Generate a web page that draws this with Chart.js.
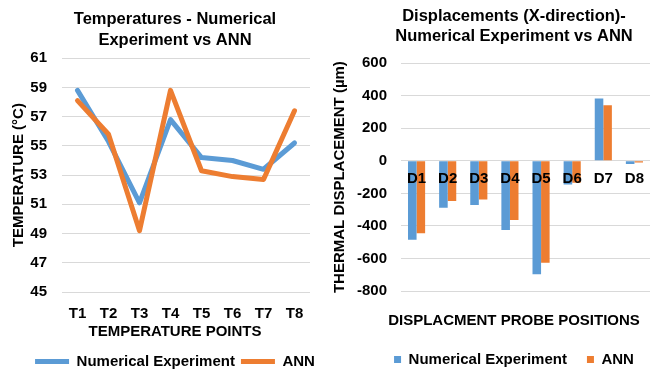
<!DOCTYPE html>
<html>
<head>
<meta charset="utf-8">
<script src="https://cdn.jsdelivr.net/npm/chart.js@4.4.0/dist/chart.umd.min.js"></script>
<style>
  html, body { margin: 0; padding: 0; background: #fff; overflow: hidden; }
  #wrap { position: relative; width: 650px; height: 371px; overflow: hidden; }
  .panel { position: absolute; top: 0; }
  #left { left: 0; width: 350px; height: 379px; }
  #right { left: 325px; width: 378px; height: 377px; }
</style>
</head>
<body>
<div id="wrap">
  <div class="panel" id="left"><canvas id="tempChart"></canvas></div>
  <div class="panel" id="right"><canvas id="dispChart"></canvas></div>
</div>
<script>
// temperature chart (left)
const tempLabels = ['T1', 'T2', 'T3', 'T4', 'T5', 'T6', 'T7', 'T8'];
const tempNumerical = [58.8, 55.3, 51.1, 56.8, 54.2, 54.0, 53.4, 55.2];
const tempAnn = [58.1, 55.8, 49.2, 58.8, 53.3, 52.9, 52.7, 57.4];

// displacement chart (right), in µm
const dispLabels = ['D1', 'D2', 'D3', 'D4', 'D5', 'D6', 'D7', 'D8'];
const dispNumerical = [-485, -288, -272, -425, -697, -145, 383, -20];
const dispAnn = [-445, -247, -237, -364, -626, -135, 342, -10];

const BLUE = '#5B9BD5';
const ORANGE = '#ED7D31';
const GRID = '#d9d9d9';

Chart.defaults.font.family = "'Liberation Sans', Arial, sans-serif";
Chart.defaults.font.weight = 'bold';
Chart.defaults.color = '#000';
Chart.defaults.animation = false;

// empty right-hand axis, only keeps the plot edge where the original has it
const spacer = (w) => ({
  type: 'linear',
  position: 'right',
  grid: { display: false },
  border: { display: false },
  ticks: { display: false },
  afterFit: (s) => { s.width = w; },
});

const lineSeries = (label, data, color, order) => ({
  label,
  data,
  order,
  borderColor: color,
  backgroundColor: color,
  borderWidth: 5,
  borderJoinStyle: 'round',
  borderCapStyle: 'round',
  pointRadius: 0,
  tension: 0,
});

new Chart(document.getElementById('tempChart'), {
  type: 'line',
  data: {
    labels: tempLabels,
    datasets: [
      lineSeries('Numerical Experiment', tempNumerical, BLUE, 1),
      lineSeries('ANN', tempAnn, ORANGE, 0),
    ],
  },
  options: {
    responsive: true,
    maintainAspectRatio: false,
    plugins: {
      title: {
        display: true,
        text: ['Temperatures - Numerical', 'Experiment vs ANN'],
        font: { size: 16.5, lineHeight: 1.25 },
        color: '#000',
        padding: { top: 9.5, bottom: 7.5 },
      },
      subtitle: {
        display: true,
        position: 'bottom',
        weight: 500,
        text: 'TEMPERATURE POINTS',
        font: { size: 15, weight: 'bold' },
        color: '#000',
        padding: { top: 0, bottom: 7 },
      },
      legend: {
        position: 'bottom',
        labels: {
          usePointStyle: true,
          pointStyle: 'line',
          pointStyleWidth: 34,
          font: { size: 15 },
          padding: 6,
          sort: (a, b) => a.datasetIndex - b.datasetIndex,
        },
      },
      tooltip: { enabled: false },
    },
    scales: {
      x: {
        offset: true,
        grid: { display: false, drawTicks: true, tickLength: 13 },
        border: { display: false },
        ticks: { font: { size: 15 }, padding: 0 },
      },
      y: {
        min: 45,
        max: 61,
        ticks: { stepSize: 2, font: { size: 15 }, padding: 15 },
        grid: { color: GRID, drawTicks: false },
        border: { display: false },
        title: {
          display: true,
          text: 'TEMPERATURE (°C)',
          font: { size: 15 },
          padding: { top: 10, bottom: 0 },
        },
        afterFit: (s) => { s.width = 62; },
      },
      pad: spacer(40),
    },
  },
});

new Chart(document.getElementById('dispChart'), {
  type: 'bar',
  data: {
    labels: dispLabels,
    datasets: [
      { label: 'Numerical Experiment', data: dispNumerical, backgroundColor: BLUE, borderWidth: 0 },
      { label: 'ANN', data: dispAnn, backgroundColor: ORANGE, borderWidth: 0 },
    ],
  },
  options: {
    responsive: true,
    maintainAspectRatio: false,
    categoryPercentage: 0.55,
    barPercentage: 1,
    plugins: {
      title: {
        display: true,
        text: ['Displacements (X-direction)-', 'Numerical Experiment vs ANN'],
        font: { size: 16.5, lineHeight: 1.25 },
        color: '#000',
        padding: { top: 6, bottom: 16 },
      },
      subtitle: {
        display: true,
        position: 'bottom',
        weight: 500,
        text: 'DISPLACMENT PROBE POSITIONS',
        font: { size: 15, weight: 'bold' },
        color: '#000',
        padding: { top: 21, bottom: 2 },
      },
      legend: {
        position: 'bottom',
        labels: { boxWidth: 7, boxHeight: 7, font: { size: 15 }, padding: 20 },
      },
      tooltip: { enabled: false },
    },
    scales: {
      x: {
        position: { y: 0 },
        grid: { display: false, drawTicks: false },
        border: { display: true, color: GRID },
        ticks: { font: { size: 15 }, padding: 9, z: 1 },
      },
      y: {
        min: -800,
        max: 600,
        ticks: { stepSize: 200, font: { size: 15 }, padding: 14 },
        grid: { color: GRID, drawTicks: false },
        border: { display: false },
        title: {
          display: true,
          text: 'THERMAL DISPLACEMENT (µm)',
          font: { size: 15 },
          padding: { top: 6, bottom: 0 },
        },
        afterFit: (s) => { s.width = 76; },
      },
      pad: spacer(53),
    },
  },
});
</script>
</body>
</html>
